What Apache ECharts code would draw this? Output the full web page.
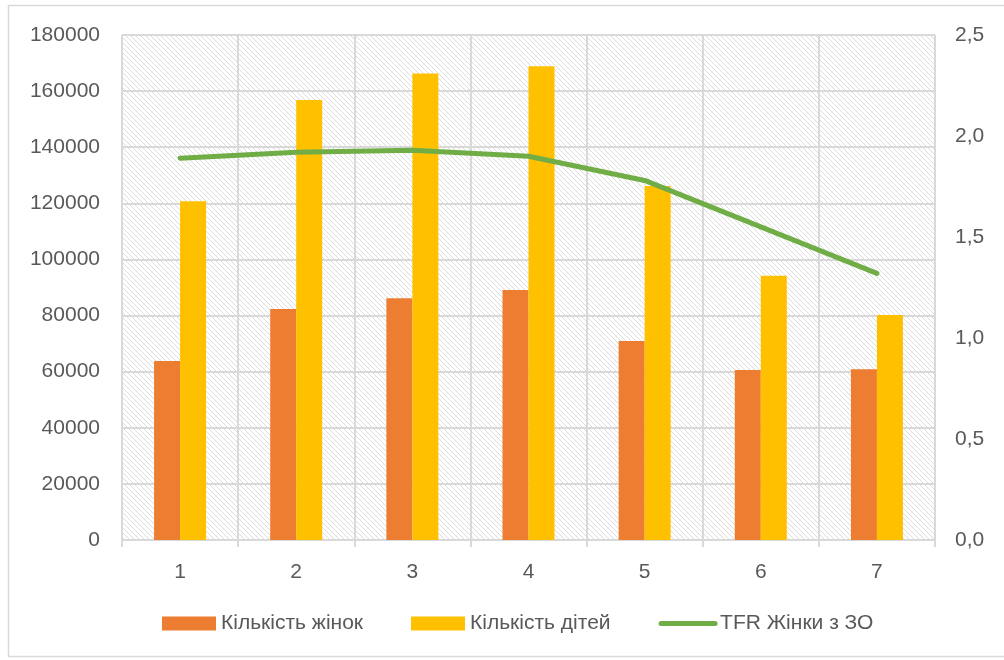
<!DOCTYPE html>
<html>
<head>
<meta charset="utf-8">
<script src="https://cdn.jsdelivr.net/npm/echarts@6/dist/echarts.min.js"></script>
<style>
  html, body { margin: 0; padding: 0; background: #ffffff; }
  #chart { width: 1004px; height: 660px; }
</style>
</head>
<body>
<div id="chart"></div>
<script>
// Groups along the x axis
const categories = ['1', '2', '3', '4', '5', '6', '7'];
// Number of women per group
const women = [63800, 82300, 86200, 89100, 70900, 60600, 60900];
// Number of children per group
const children = [120700, 156800, 166300, 168900, 126200, 94200, 80200];
// Total fertility rate, women with higher education
const tfr = [1.89, 1.92, 1.93, 1.90, 1.78, 1.55, 1.32];

const FONT = '"Liberation Sans", Arial, sans-serif';

// Diagonal hatch fill for the plot area
function makeHatch() {
  const size = 5;
  const c = document.createElement('canvas');
  c.width = size; c.height = size;
  const ctx = c.getContext('2d');
  ctx.fillStyle = '#ffffff';
  ctx.fillRect(0, 0, size, size);
  ctx.strokeStyle = '#dcdcdc';
  ctx.lineWidth = 1;
  for (let k = -1; k <= 1; k++) {
    ctx.beginPath();
    ctx.moveTo(k * size - 1, -1);
    ctx.lineTo(k * size + size + 1, size + 1);
    ctx.stroke();
  }
  return c;
}

const chart = echarts.init(document.getElementById('chart'));
chart.setOption({
  animation: false,
  backgroundColor: '#ffffff',
  textStyle: { fontFamily: FONT },
  grid: {
    left: 122, right: 69, top: 35, bottom: 120,
    show: true,
    borderWidth: 0,
    backgroundColor: { image: makeHatch(), repeat: 'repeat' }
  },
  graphic: [{
    type: 'rect',
    shape: { x: 8.5, y: 5.5, width: 1010, height: 651 },
    style: { fill: 'none', stroke: '#d9d9d9', lineWidth: 1.5 },
    silent: true, z: -1
  }],
  legend: {
    bottom: 21,
    left: 157,
    itemWidth: 54,
    itemHeight: 14,
    itemGap: 48,
    textStyle: { fontSize: 21, color: '#595959', fontFamily: FONT },
    data: [
      { name: 'Кількість жінок', icon: 'rect' },
      { name: 'Кількість дітей', icon: 'rect' },
      { name: 'TFR Жінки з ЗО', itemStyle: { opacity: 0 }, lineStyle: { width: 5, color: '#70AD47' } }
    ]
  },
  xAxis: {
    type: 'category',
    data: categories,
    boundaryGap: true,
    axisLine: { show: true, lineStyle: { color: '#d9d9d9', width: 2 } },
    axisTick: { show: true, length: 7, lineStyle: { color: '#d9d9d9', width: 2 } },
    axisLabel: { fontSize: 21, color: '#595959', margin: 22, fontFamily: FONT },
    splitLine: { show: true, lineStyle: { color: '#d9d9d9', width: 2 } }
  },
  yAxis: [{
    type: 'value',
    min: 0, max: 180000, interval: 20000,
    axisLine: { show: false },
    axisTick: { show: false },
    axisLabel: {
      fontSize: 21, color: '#595959', margin: 22, fontFamily: FONT,
      formatter: v => String(v)
    },
    splitLine: { show: true, lineStyle: { color: '#d9d9d9', width: 2 } }
  }, {
    type: 'value',
    min: 0, max: 2.5, interval: 0.5,
    position: 'right',
    axisLine: { show: false },
    axisTick: { show: false },
    axisLabel: {
      fontSize: 21, color: '#595959', margin: 20, fontFamily: FONT,
      formatter: v => v.toFixed(1).replace('.', ',')
    },
    splitLine: { show: false }
  }],
  series: [{
    name: 'Кількість жінок',
    type: 'bar',
    data: women,
    barWidth: 26,
    barGap: '0%',
    itemStyle: { color: '#ED7D31' }
  }, {
    name: 'Кількість дітей',
    type: 'bar',
    data: children,
    barWidth: 26,
    barGap: '0%',
    itemStyle: { color: '#FFC000' }
  }, {
    name: 'TFR Жінки з ЗО',
    type: 'line',
    yAxisIndex: 1,
    data: tfr,
    symbol: 'none',
    z: 5,
    lineStyle: { color: '#70AD47', width: 5, cap: 'round' },
    itemStyle: { color: '#70AD47' }
  }]
});
</script>
</body>
</html>
